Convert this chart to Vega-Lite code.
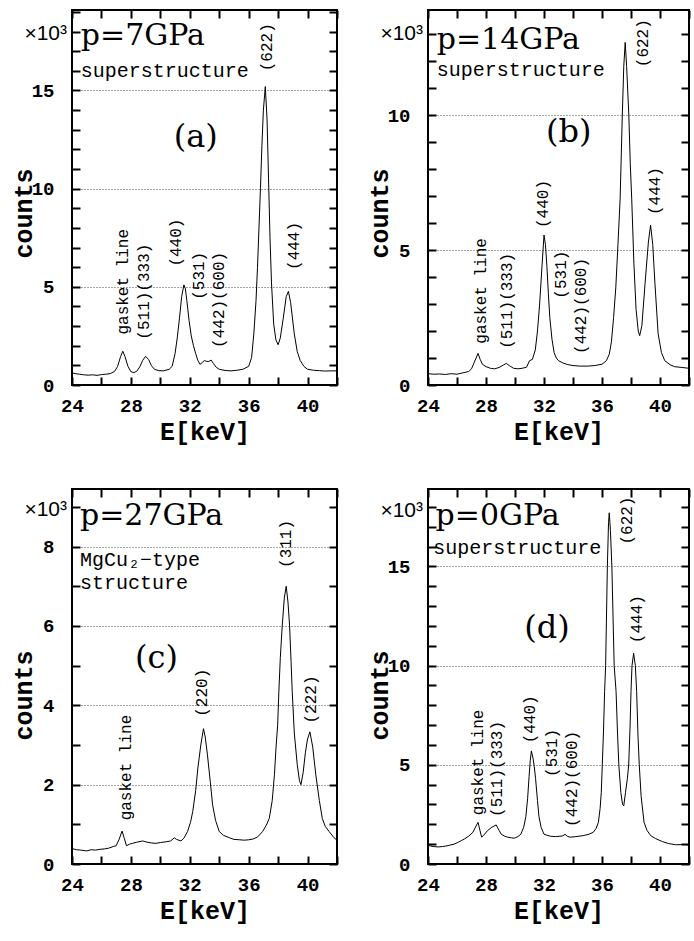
{
"$schema": "https://vega.github.io/schema/vega-lite/v6.json",
"padding": {"left": 10, "top": 1, "right": 0, "bottom": 0},
"background": "white",
"datasets": {
"spec": [
{"p":"a","E":24.0,"c":0.62},{"p":"a","E":24.2,"c":0.58},{"p":"a","E":24.5,"c":0.55},{"p":"a","E":24.8,"c":0.52},{"p":"a","E":25.1,"c":0.5},{"p":"a","E":25.4,"c":0.52},{"p":"a","E":25.7,"c":0.49},{"p":"a","E":26.0,"c":0.53},{"p":"a","E":26.3,"c":0.55},{"p":"a","E":26.6,"c":0.58},{"p":"a","E":26.9,"c":0.7},{"p":"a","E":27.1,"c":0.95},{"p":"a","E":27.3,"c":1.45},{"p":"a","E":27.45,"c":1.72},{"p":"a","E":27.6,"c":1.45},{"p":"a","E":27.8,"c":0.95},{"p":"a","E":28.0,"c":0.68},{"p":"a","E":28.2,"c":0.63},{"p":"a","E":28.4,"c":0.7},{"p":"a","E":28.6,"c":0.92},{"p":"a","E":28.8,"c":1.25},{"p":"a","E":29.0,"c":1.46},{"p":"a","E":29.2,"c":1.3},{"p":"a","E":29.4,"c":0.98},{"p":"a","E":29.6,"c":0.8},{"p":"a","E":29.9,"c":0.73},{"p":"a","E":30.2,"c":0.72},{"p":"a","E":30.6,"c":0.8},{"p":"a","E":30.8,"c":0.95},{"p":"a","E":31.0,"c":1.6},{"p":"a","E":31.15,"c":2.4},{"p":"a","E":31.3,"c":3.4},{"p":"a","E":31.45,"c":4.5},{"p":"a","E":31.6,"c":5.1},{"p":"a","E":31.7,"c":4.9},{"p":"a","E":31.8,"c":4.3},{"p":"a","E":31.95,"c":3.3},{"p":"a","E":32.1,"c":2.5},{"p":"a","E":32.25,"c":2.0},{"p":"a","E":32.4,"c":1.6},{"p":"a","E":32.55,"c":1.25},{"p":"a","E":32.7,"c":1.05},{"p":"a","E":32.85,"c":1.15},{"p":"a","E":33.0,"c":1.25},{"p":"a","E":33.15,"c":1.2},{"p":"a","E":33.3,"c":1.2},{"p":"a","E":33.45,"c":1.27},{"p":"a","E":33.6,"c":1.1},{"p":"a","E":33.8,"c":0.9},{"p":"a","E":34.0,"c":0.8},{"p":"a","E":34.4,"c":0.74},{"p":"a","E":34.8,"c":0.72},{"p":"a","E":35.2,"c":0.75},{"p":"a","E":35.6,"c":0.8},{"p":"a","E":36.0,"c":0.95},{"p":"a","E":36.2,"c":1.4},{"p":"a","E":36.35,"c":2.6},{"p":"a","E":36.5,"c":4.3},{"p":"a","E":36.6,"c":6.0},{"p":"a","E":36.7,"c":8.0},{"p":"a","E":36.8,"c":10.0},{"p":"a","E":36.9,"c":12.2},{"p":"a","E":37.0,"c":14.0},{"p":"a","E":37.13,"c":15.2},{"p":"a","E":37.25,"c":13.5},{"p":"a","E":37.35,"c":10.5},{"p":"a","E":37.45,"c":7.5},{"p":"a","E":37.55,"c":5.2},{"p":"a","E":37.7,"c":3.1},{"p":"a","E":37.85,"c":2.3},{"p":"a","E":38.0,"c":2.05},{"p":"a","E":38.15,"c":2.4},{"p":"a","E":38.35,"c":3.4},{"p":"a","E":38.55,"c":4.5},{"p":"a","E":38.7,"c":4.77},{"p":"a","E":38.85,"c":4.2},{"p":"a","E":39.1,"c":2.6},{"p":"a","E":39.3,"c":1.7},{"p":"a","E":39.5,"c":1.25},{"p":"a","E":39.75,"c":0.95},{"p":"a","E":40.0,"c":0.8},{"p":"a","E":40.4,"c":0.75},{"p":"a","E":40.8,"c":0.73},{"p":"a","E":41.2,"c":0.71},{"p":"a","E":41.6,"c":0.72},{"p":"a","E":42.0,"c":0.72},

{"p":"b","E":24.0,"c":0.42},{"p":"b","E":24.4,"c":0.4},{"p":"b","E":24.8,"c":0.41},{"p":"b","E":25.2,"c":0.39},{"p":"b","E":25.6,"c":0.42},{"p":"b","E":26.0,"c":0.4},{"p":"b","E":26.4,"c":0.45},{"p":"b","E":26.8,"c":0.5},{"p":"b","E":27.0,"c":0.6},{"p":"b","E":27.2,"c":0.85},{"p":"b","E":27.45,"c":1.17},{"p":"b","E":27.6,"c":0.95},{"p":"b","E":27.75,"c":0.77},{"p":"b","E":28.0,"c":0.68},{"p":"b","E":28.3,"c":0.62},{"p":"b","E":28.6,"c":0.6},{"p":"b","E":28.9,"c":0.65},{"p":"b","E":29.2,"c":0.74},{"p":"b","E":29.4,"c":0.8},{"p":"b","E":29.6,"c":0.72},{"p":"b","E":29.9,"c":0.62},{"p":"b","E":30.2,"c":0.6},{"p":"b","E":30.5,"c":0.62},{"p":"b","E":30.8,"c":0.66},{"p":"b","E":31.0,"c":0.9},{"p":"b","E":31.2,"c":0.95},{"p":"b","E":31.4,"c":1.3},{"p":"b","E":31.55,"c":2.0},{"p":"b","E":31.7,"c":3.0},{"p":"b","E":31.85,"c":4.3},{"p":"b","E":32.0,"c":5.56},{"p":"b","E":32.1,"c":5.2},{"p":"b","E":32.2,"c":4.4},{"p":"b","E":32.3,"c":3.4},{"p":"b","E":32.4,"c":2.5},{"p":"b","E":32.55,"c":1.7},{"p":"b","E":32.7,"c":1.2},{"p":"b","E":32.85,"c":1.0},{"p":"b","E":33.0,"c":0.9},{"p":"b","E":33.3,"c":0.82},{"p":"b","E":33.6,"c":0.76},{"p":"b","E":34.0,"c":0.72},{"p":"b","E":34.5,"c":0.7},{"p":"b","E":35.0,"c":0.7},{"p":"b","E":35.5,"c":0.72},{"p":"b","E":36.0,"c":0.77},{"p":"b","E":36.3,"c":0.9},{"p":"b","E":36.5,"c":1.14},{"p":"b","E":36.65,"c":1.6},{"p":"b","E":36.8,"c":2.5},{"p":"b","E":36.95,"c":3.6},{"p":"b","E":37.1,"c":5.2},{"p":"b","E":37.25,"c":6.9},{"p":"b","E":37.4,"c":10.0},{"p":"b","E":37.5,"c":11.8},{"p":"b","E":37.6,"c":12.7},{"p":"b","E":37.7,"c":11.8},{"p":"b","E":37.85,"c":10.0},{"p":"b","E":37.95,"c":8.2},{"p":"b","E":38.05,"c":6.9},{"p":"b","E":38.2,"c":4.5},{"p":"b","E":38.35,"c":2.8},{"p":"b","E":38.5,"c":2.0},{"p":"b","E":38.6,"c":1.83},{"p":"b","E":38.75,"c":2.2},{"p":"b","E":38.97,"c":3.77},{"p":"b","E":39.2,"c":5.3},{"p":"b","E":39.35,"c":5.93},{"p":"b","E":39.5,"c":5.2},{"p":"b","E":39.65,"c":3.77},{"p":"b","E":39.87,"c":1.9},{"p":"b","E":40.1,"c":1.2},{"p":"b","E":40.33,"c":0.9},{"p":"b","E":40.7,"c":0.75},{"p":"b","E":41.0,"c":0.68},{"p":"b","E":41.5,"c":0.65},{"p":"b","E":42.0,"c":0.62},

{"p":"c","E":24.0,"c":0.39},{"p":"c","E":24.3,"c":0.36},{"p":"c","E":24.6,"c":0.35},{"p":"c","E":25.0,"c":0.33},{"p":"c","E":25.3,"c":0.36},{"p":"c","E":25.6,"c":0.35},{"p":"c","E":25.9,"c":0.37},{"p":"c","E":26.2,"c":0.38},{"p":"c","E":26.5,"c":0.4},{"p":"c","E":26.8,"c":0.44},{"p":"c","E":27.0,"c":0.46},{"p":"c","E":27.2,"c":0.62},{"p":"c","E":27.4,"c":0.83},{"p":"c","E":27.55,"c":0.65},{"p":"c","E":27.7,"c":0.46},{"p":"c","E":27.9,"c":0.5},{"p":"c","E":28.1,"c":0.52},{"p":"c","E":28.4,"c":0.55},{"p":"c","E":28.8,"c":0.58},{"p":"c","E":29.1,"c":0.55},{"p":"c","E":29.4,"c":0.53},{"p":"c","E":29.7,"c":0.52},{"p":"c","E":30.0,"c":0.54},{"p":"c","E":30.4,"c":0.56},{"p":"c","E":30.7,"c":0.58},{"p":"c","E":30.95,"c":0.66},{"p":"c","E":31.1,"c":0.62},{"p":"c","E":31.4,"c":0.58},{"p":"c","E":31.6,"c":0.65},{"p":"c","E":31.85,"c":0.82},{"p":"c","E":32.05,"c":1.05},{"p":"c","E":32.2,"c":1.32},{"p":"c","E":32.4,"c":1.85},{"p":"c","E":32.55,"c":2.42},{"p":"c","E":32.75,"c":3.0},{"p":"c","E":32.93,"c":3.41},{"p":"c","E":33.05,"c":3.2},{"p":"c","E":33.2,"c":2.75},{"p":"c","E":33.4,"c":2.05},{"p":"c","E":33.55,"c":1.49},{"p":"c","E":33.75,"c":1.1},{"p":"c","E":34.0,"c":0.82},{"p":"c","E":34.3,"c":0.72},{"p":"c","E":34.7,"c":0.66},{"p":"c","E":35.0,"c":0.62},{"p":"c","E":35.4,"c":0.61},{"p":"c","E":35.7,"c":0.6},{"p":"c","E":36.0,"c":0.61},{"p":"c","E":36.3,"c":0.63},{"p":"c","E":36.6,"c":0.68},{"p":"c","E":36.95,"c":0.82},{"p":"c","E":37.2,"c":0.98},{"p":"c","E":37.4,"c":1.15},{"p":"c","E":37.6,"c":1.6},{"p":"c","E":37.75,"c":2.25},{"p":"c","E":37.87,"c":3.0},{"p":"c","E":37.97,"c":3.5},{"p":"c","E":38.05,"c":4.34},{"p":"c","E":38.15,"c":5.2},{"p":"c","E":38.28,"c":6.0},{"p":"c","E":38.42,"c":6.7},{"p":"c","E":38.55,"c":7.0},{"p":"c","E":38.67,"c":6.6},{"p":"c","E":38.78,"c":6.0},{"p":"c","E":38.88,"c":5.1},{"p":"c","E":38.96,"c":4.34},{"p":"c","E":39.1,"c":3.3},{"p":"c","E":39.3,"c":2.5},{"p":"c","E":39.45,"c":2.1},{"p":"c","E":39.55,"c":2.0},{"p":"c","E":39.7,"c":2.3},{"p":"c","E":39.85,"c":2.8},{"p":"c","E":40.0,"c":3.15},{"p":"c","E":40.16,"c":3.33},{"p":"c","E":40.35,"c":2.95},{"p":"c","E":40.56,"c":2.25},{"p":"c","E":40.8,"c":1.6},{"p":"c","E":41.0,"c":1.15},{"p":"c","E":41.2,"c":0.95},{"p":"c","E":41.46,"c":0.82},{"p":"c","E":41.8,"c":0.66},{"p":"c","E":42.0,"c":0.6},

{"p":"d","E":24.0,"c":0.94},{"p":"d","E":24.35,"c":0.88},{"p":"d","E":24.7,"c":0.86},{"p":"d","E":25.0,"c":0.88},{"p":"d","E":25.2,"c":0.9},{"p":"d","E":25.5,"c":0.95},{"p":"d","E":25.8,"c":1.0},{"p":"d","E":26.1,"c":1.1},{"p":"d","E":26.3,"c":1.18},{"p":"d","E":26.5,"c":1.26},{"p":"d","E":26.8,"c":1.4},{"p":"d","E":27.1,"c":1.6},{"p":"d","E":27.3,"c":1.9},{"p":"d","E":27.45,"c":2.1},{"p":"d","E":27.58,"c":1.7},{"p":"d","E":27.7,"c":1.35},{"p":"d","E":27.9,"c":1.5},{"p":"d","E":28.1,"c":1.68},{"p":"d","E":28.4,"c":1.85},{"p":"d","E":28.7,"c":1.97},{"p":"d","E":28.9,"c":1.7},{"p":"d","E":29.05,"c":1.5},{"p":"d","E":29.3,"c":1.4},{"p":"d","E":29.5,"c":1.35},{"p":"d","E":29.75,"c":1.32},{"p":"d","E":29.95,"c":1.3},{"p":"d","E":30.2,"c":1.38},{"p":"d","E":30.4,"c":1.5},{"p":"d","E":30.6,"c":1.85},{"p":"d","E":30.75,"c":2.4},{"p":"d","E":30.87,"c":3.3},{"p":"d","E":30.97,"c":4.4},{"p":"d","E":31.05,"c":5.2},{"p":"d","E":31.13,"c":5.7},{"p":"d","E":31.25,"c":5.3},{"p":"d","E":31.33,"c":4.9},{"p":"d","E":31.42,"c":4.3},{"p":"d","E":31.55,"c":3.2},{"p":"d","E":31.65,"c":2.4},{"p":"d","E":31.8,"c":1.85},{"p":"d","E":32.0,"c":1.5},{"p":"d","E":32.2,"c":1.45},{"p":"d","E":32.45,"c":1.4},{"p":"d","E":32.8,"c":1.38},{"p":"d","E":33.1,"c":1.4},{"p":"d","E":33.3,"c":1.42},{"p":"d","E":33.45,"c":1.5},{"p":"d","E":33.6,"c":1.4},{"p":"d","E":33.8,"c":1.35},{"p":"d","E":34.2,"c":1.38},{"p":"d","E":34.7,"c":1.43},{"p":"d","E":35.1,"c":1.5},{"p":"d","E":35.4,"c":1.6},{"p":"d","E":35.6,"c":1.8},{"p":"d","E":35.75,"c":2.1},{"p":"d","E":35.87,"c":2.8},{"p":"d","E":35.95,"c":3.6},{"p":"d","E":36.02,"c":5.0},{"p":"d","E":36.1,"c":6.6},{"p":"d","E":36.18,"c":8.7},{"p":"d","E":36.25,"c":10.0},{"p":"d","E":36.37,"c":15.0},{"p":"d","E":36.45,"c":17.2},{"p":"d","E":36.5,"c":17.7},{"p":"d","E":36.58,"c":16.8},{"p":"d","E":36.68,"c":15.0},{"p":"d","E":36.84,"c":10.0},{"p":"d","E":36.97,"c":8.7},{"p":"d","E":37.07,"c":6.6},{"p":"d","E":37.16,"c":5.0},{"p":"d","E":37.3,"c":3.6},{"p":"d","E":37.42,"c":3.0},{"p":"d","E":37.5,"c":2.93},{"p":"d","E":37.62,"c":3.6},{"p":"d","E":37.75,"c":4.3},{"p":"d","E":37.84,"c":5.0},{"p":"d","E":37.93,"c":6.8},{"p":"d","E":38.0,"c":8.7},{"p":"d","E":38.07,"c":10.0},{"p":"d","E":38.18,"c":10.62},{"p":"d","E":38.3,"c":10.0},{"p":"d","E":38.39,"c":8.7},{"p":"d","E":38.48,"c":6.5},{"p":"d","E":38.57,"c":5.0},{"p":"d","E":38.7,"c":3.4},{"p":"d","E":38.9,"c":2.1},{"p":"d","E":39.1,"c":1.7},{"p":"d","E":39.36,"c":1.43},{"p":"d","E":39.7,"c":1.28},{"p":"d","E":40.16,"c":1.13},{"p":"d","E":40.6,"c":1.03},{"p":"d","E":41.07,"c":0.97},{"p":"d","E":41.5,"c":0.98},{"p":"d","E":42.0,"c":0.97}
],
"lab": [
{"p":"a","k":"pk","E":27.46,"c":2.57,"t":"gasket line"},{"p":"a","k":"pk","E":28.89,"c":2.31,"t":"(511)(333)"},{"p":"a","k":"pk","E":31.04,"c":6.03,"t":"(440)"},{"p":"a","k":"pk","E":32.63,"c":4.34,"t":"(531)"},{"p":"a","k":"pk","E":33.99,"c":1.89,"t":"(442)(600)"},{"p":"a","k":"pk","E":37.27,"c":15.98,"t":"(622)"},{"p":"a","k":"pk","E":39.08,"c":5.86,"t":"(444)"},
{"p":"a","k":"big","E":24.6,"c":17.3,"t":"p=7GPa"},{"p":"a","k":"sub","E":24.6,"c":15.68,"t":"superstructure"},{"p":"a","k":"let","E":32.4,"c":12.13,"t":"(a)"},{"p":"a","k":"mul","E":24,"c":17.55,"t":"×10³"},
{"p":"b","k":"pk","E":27.63,"c":1.53,"t":"gasket line"},{"p":"b","k":"pk","E":29.44,"c":1.34,"t":"(511)(333)"},{"p":"b","k":"pk","E":31.9,"c":5.82,"t":"(440)"},{"p":"b","k":"pk","E":33.2,"c":3.2,"t":"(531)"},{"p":"b","k":"pk","E":34.54,"c":1.15,"t":"(442)(600)"},{"p":"b","k":"pk","E":38.85,"c":11.78,"t":"(622)"},{"p":"b","k":"pk","E":39.65,"c":6.3,"t":"(444)"},
{"p":"b","k":"big","E":24.6,"c":12.46,"t":"p=14GPa"},{"p":"b","k":"sub","E":24.6,"c":11.45,"t":"superstructure"},{"p":"b","k":"let","E":33.7,"c":9.0,"t":"(b)"},{"p":"b","k":"mul","E":24,"c":12.77,"t":"×10³"},
{"p":"c","k":"pk","E":27.7,"c":1.1,"t":"gasket line"},{"p":"c","k":"pk","E":32.8,"c":3.71,"t":"(220)"},{"p":"c","k":"pk","E":38.55,"c":7.46,"t":"(311)"},{"p":"c","k":"pk","E":40.25,"c":3.54,"t":"(222)"},
{"p":"c","k":"big","E":24.54,"c":8.55,"t":"p=27GPa"},{"p":"c","k":"sub","E":24.54,"c":7.5,"t":"MgCu₂−type"},{"p":"c","k":"sub","E":24.54,"c":6.93,"t":"structure"},{"p":"c","k":"let","E":29.74,"c":4.93,"t":"(c)"},{"p":"c","k":"mul","E":24,"c":8.76,"t":"×10³"},
{"p":"d","k":"pk","E":27.43,"c":2.46,"t":"gasket line"},{"p":"d","k":"pk","E":28.79,"c":2.37,"t":"(511)(333)"},{"p":"d","k":"pk","E":31.0,"c":6.08,"t":"(440)"},{"p":"d","k":"pk","E":32.53,"c":4.39,"t":"(531)"},{"p":"d","k":"pk","E":33.96,"c":1.87,"t":"(442)(600)"},{"p":"d","k":"pk","E":37.75,"c":16.1,"t":"(622)"},{"p":"d","k":"pk","E":38.43,"c":11.13,"t":"(444)"},
{"p":"d","k":"big","E":24.52,"c":17.1,"t":"p=0GPa"},{"p":"d","k":"sub","E":24.36,"c":15.6,"t":"superstructure"},{"p":"d","k":"let","E":32.2,"c":11.38,"t":"(d)"},{"p":"d","k":"mul","E":24,"c":17.5,"t":"×10³"}
]
},
"columns": 2,
"spacing": {"row": 42, "column": 26},
"concat": [
{
"width": 265, "height": 375,
"layer": [
{"data": {"name": "spec"}, "transform": [{"filter": "datum.p === 'a'"}],
 "mark": {"type": "line", "color": "black", "strokeWidth": 1},
 "encoding": {
  "x": {"field": "E", "type": "quantitative", "scale": {"domain": [24, 42], "nice": false, "zero": false},
   "axis": {"orient": "bottom", "title": "E[keV]", "values": [24,26,28,30,32,34,36,38,40,42], "labelExpr": "datum.value % 4 === 0 && datum.value < 42 ? datum.label : ''", "ticks": true, "tickSize": -8, "tickWidth": 2, "tickColor": "black", "labelPadding": 19, "titleY": 34}},
  "y": {"field": "c", "type": "quantitative", "scale": {"domain": [0, 19.1], "nice": false, "zero": false},
   "axis": {"orient": "left", "title": "counts", "values": [0,1,2,3,4,5,6,7,8,9,10,11,12,13,14,15,16,17,18,19], "labelExpr": "datum.value % 5 === 0 ? datum.label : ''", "ticks": true, "tickSize": -8, "tickWidth": 2, "tickColor": "black", "labelPadding": 26, "grid": true,
    "gridOpacity": {"condition": {"test": "datum.value % 5 === 0 && datum.value > 0", "value": 1}, "value": 0},
    "titleX": -36, "titleY": 203, "minExtent": 40, "maxExtent": 40}}
 }},
{"data": {"name": "lab"}, "transform": [{"filter": "datum.p === 'a' && datum.k === 'pk'"}],
 "mark": {"type": "text", "angle": 270, "align": "left", "baseline": "middle", "font": "Liberation Mono", "fontSize": 16},
 "encoding": {
  "x": {"field": "E", "type": "quantitative", "scale": {"domain": [24, 42], "nice": false, "zero": false}, "axis": {"orient": "top", "title": null, "labels": false, "domain": false, "ticks": true, "tickSize": -8, "tickWidth": 2, "tickColor": "black", "values": [24,26,28,30,32,34,36,38,40,42]}},
  "y": {"field": "c", "type": "quantitative", "scale": {"domain": [0, 19.1], "nice": false, "zero": false}, "axis": {"orient": "right", "title": null, "labels": false, "domain": false, "ticks": true, "tickSize": -8, "tickWidth": 2, "tickColor": "black", "values": [0,1,2,3,4,5,6,7,8,9,10,11,12,13,14,15,16,17,18,19]}},
  "text": {"field": "t"}
 }},
{"data": {"name": "lab"}, "transform": [{"filter": "datum.p === 'a' && datum.k === 'big'"}],
 "mark": {"type": "text", "align": "left", "baseline": "alphabetic", "font": "DejaVu Serif", "fontSize": 30},
 "encoding": {"x": {"field": "E", "type": "quantitative", "axis": null}, "y": {"field": "c", "type": "quantitative", "axis": null}, "text": {"field": "t"}}},
{"data": {"name": "lab"}, "transform": [{"filter": "datum.p === 'a' && datum.k === 'sub'"}],
 "mark": {"type": "text", "align": "left", "baseline": "alphabetic", "font": "Liberation Mono", "fontSize": 20},
 "encoding": {"x": {"field": "E", "type": "quantitative", "axis": null}, "y": {"field": "c", "type": "quantitative", "axis": null}, "text": {"field": "t"}}},
{"data": {"name": "lab"}, "transform": [{"filter": "datum.p === 'a' && datum.k === 'let'"}],
 "mark": {"type": "text", "align": "center", "baseline": "alphabetic", "font": "DejaVu Serif", "fontSize": 32},
 "encoding": {"x": {"field": "E", "type": "quantitative", "axis": null}, "y": {"field": "c", "type": "quantitative", "axis": null}, "text": {"field": "t"}}},
{"data": {"name": "lab"}, "transform": [{"filter": "datum.p === 'a' && datum.k === 'mul'"}],
 "mark": {"type": "text", "align": "right", "baseline": "alphabetic", "font": "Liberation Sans", "fontSize": 21, "dx": -5},
 "encoding": {"x": {"field": "E", "type": "quantitative", "axis": null}, "y": {"field": "c", "type": "quantitative", "axis": null}, "text": {"field": "t"}}}
],
"resolve": {"axis": {"x": "independent", "y": "independent"}}
},
{
"width": 261, "height": 375,
"layer": [
{"data": {"name": "spec"}, "transform": [{"filter": "datum.p === 'b'"}],
 "mark": {"type": "line", "color": "black", "strokeWidth": 1},
 "encoding": {
  "x": {"field": "E", "type": "quantitative", "scale": {"domain": [24, 42], "nice": false, "zero": false},
   "axis": {"orient": "bottom", "title": "E[keV]", "values": [24,26,28,30,32,34,36,38,40,42], "labelExpr": "datum.value % 4 === 0 && datum.value < 42 ? datum.label : ''", "ticks": true, "tickSize": -8, "tickWidth": 2, "tickColor": "black", "labelPadding": 19, "titleY": 34}},
  "y": {"field": "c", "type": "quantitative", "scale": {"domain": [0, 13.9], "nice": false, "zero": false},
   "axis": {"orient": "left", "title": "counts", "values": [0,1,2,3,4,5,6,7,8,9,10,11,12,13], "labelExpr": "datum.value % 5 === 0 ? datum.label : ''", "ticks": true, "tickSize": -8, "tickWidth": 2, "tickColor": "black", "labelPadding": 26, "grid": true,
    "gridOpacity": {"condition": {"test": "datum.value % 5 === 0 && datum.value > 0", "value": 1}, "value": 0},
    "titleX": -36, "titleY": 203, "minExtent": 40, "maxExtent": 40}}
 }},
{"data": {"name": "lab"}, "transform": [{"filter": "datum.p === 'b' && datum.k === 'pk'"}],
 "mark": {"type": "text", "angle": 270, "align": "left", "baseline": "middle", "font": "Liberation Mono", "fontSize": 16},
 "encoding": {
  "x": {"field": "E", "type": "quantitative", "scale": {"domain": [24, 42], "nice": false, "zero": false}, "axis": {"orient": "top", "title": null, "labels": false, "domain": false, "ticks": true, "tickSize": -8, "tickWidth": 2, "tickColor": "black", "values": [24,26,28,30,32,34,36,38,40,42]}},
  "y": {"field": "c", "type": "quantitative", "scale": {"domain": [0, 13.9], "nice": false, "zero": false}, "axis": {"orient": "right", "title": null, "labels": false, "domain": false, "ticks": true, "tickSize": -8, "tickWidth": 2, "tickColor": "black", "values": [0,1,2,3,4,5,6,7,8,9,10,11,12,13]}},
  "text": {"field": "t"}
 }},
{"data": {"name": "lab"}, "transform": [{"filter": "datum.p === 'b' && datum.k === 'big'"}],
 "mark": {"type": "text", "align": "left", "baseline": "alphabetic", "font": "DejaVu Serif", "fontSize": 30},
 "encoding": {"x": {"field": "E", "type": "quantitative", "axis": null}, "y": {"field": "c", "type": "quantitative", "axis": null}, "text": {"field": "t"}}},
{"data": {"name": "lab"}, "transform": [{"filter": "datum.p === 'b' && datum.k === 'sub'"}],
 "mark": {"type": "text", "align": "left", "baseline": "alphabetic", "font": "Liberation Mono", "fontSize": 20},
 "encoding": {"x": {"field": "E", "type": "quantitative", "axis": null}, "y": {"field": "c", "type": "quantitative", "axis": null}, "text": {"field": "t"}}},
{"data": {"name": "lab"}, "transform": [{"filter": "datum.p === 'b' && datum.k === 'let'"}],
 "mark": {"type": "text", "align": "center", "baseline": "alphabetic", "font": "DejaVu Serif", "fontSize": 32},
 "encoding": {"x": {"field": "E", "type": "quantitative", "axis": null}, "y": {"field": "c", "type": "quantitative", "axis": null}, "text": {"field": "t"}}},
{"data": {"name": "lab"}, "transform": [{"filter": "datum.p === 'b' && datum.k === 'mul'"}],
 "mark": {"type": "text", "align": "right", "baseline": "alphabetic", "font": "Liberation Sans", "fontSize": 21, "dx": -5},
 "encoding": {"x": {"field": "E", "type": "quantitative", "axis": null}, "y": {"field": "c", "type": "quantitative", "axis": null}, "text": {"field": "t"}}}
],
"resolve": {"axis": {"x": "independent", "y": "independent"}}
},
{
"width": 265, "height": 375,
"layer": [
{"data": {"name": "spec"}, "transform": [{"filter": "datum.p === 'c'"}],
 "mark": {"type": "line", "color": "black", "strokeWidth": 1},
 "encoding": {
  "x": {"field": "E", "type": "quantitative", "scale": {"domain": [24, 42], "nice": false, "zero": false},
   "axis": {"orient": "bottom", "title": "E[keV]", "values": [24,26,28,30,32,34,36,38,40,42], "labelExpr": "datum.value % 4 === 0 && datum.value < 42 ? datum.label : ''", "ticks": true, "tickSize": -8, "tickWidth": 2, "tickColor": "black", "labelPadding": 19, "titleY": 34}},
  "y": {"field": "c", "type": "quantitative", "scale": {"domain": [0, 9.45], "nice": false, "zero": false},
   "axis": {"orient": "left", "title": "counts", "values": [0,1,2,3,4,5,6,7,8,9], "labelExpr": "datum.value % 2 === 0 ? datum.label : ''", "ticks": true, "tickSize": -8, "tickWidth": 2, "tickColor": "black", "labelPadding": 26, "grid": true,
    "gridOpacity": {"condition": {"test": "datum.value % 2 === 0 && datum.value > 0", "value": 1}, "value": 0},
    "titleX": -36, "titleY": 206, "minExtent": 40, "maxExtent": 40}}
 }},
{"data": {"name": "lab"}, "transform": [{"filter": "datum.p === 'c' && datum.k === 'pk'"}],
 "mark": {"type": "text", "angle": 270, "align": "left", "baseline": "middle", "font": "Liberation Mono", "fontSize": 16},
 "encoding": {
  "x": {"field": "E", "type": "quantitative", "scale": {"domain": [24, 42], "nice": false, "zero": false}, "axis": {"orient": "top", "title": null, "labels": false, "domain": false, "ticks": true, "tickSize": -8, "tickWidth": 2, "tickColor": "black", "values": [24,26,28,30,32,34,36,38,40,42]}},
  "y": {"field": "c", "type": "quantitative", "scale": {"domain": [0, 9.45], "nice": false, "zero": false}, "axis": {"orient": "right", "title": null, "labels": false, "domain": false, "ticks": true, "tickSize": -8, "tickWidth": 2, "tickColor": "black", "values": [0,1,2,3,4,5,6,7,8,9]}},
  "text": {"field": "t"}
 }},
{"data": {"name": "lab"}, "transform": [{"filter": "datum.p === 'c' && datum.k === 'big'"}],
 "mark": {"type": "text", "align": "left", "baseline": "alphabetic", "font": "DejaVu Serif", "fontSize": 30},
 "encoding": {"x": {"field": "E", "type": "quantitative", "axis": null}, "y": {"field": "c", "type": "quantitative", "axis": null}, "text": {"field": "t"}}},
{"data": {"name": "lab"}, "transform": [{"filter": "datum.p === 'c' && datum.k === 'sub'"}],
 "mark": {"type": "text", "align": "left", "baseline": "alphabetic", "font": "Liberation Mono", "fontSize": 20},
 "encoding": {"x": {"field": "E", "type": "quantitative", "axis": null}, "y": {"field": "c", "type": "quantitative", "axis": null}, "text": {"field": "t"}}},
{"data": {"name": "lab"}, "transform": [{"filter": "datum.p === 'c' && datum.k === 'let'"}],
 "mark": {"type": "text", "align": "center", "baseline": "alphabetic", "font": "DejaVu Serif", "fontSize": 32},
 "encoding": {"x": {"field": "E", "type": "quantitative", "axis": null}, "y": {"field": "c", "type": "quantitative", "axis": null}, "text": {"field": "t"}}},
{"data": {"name": "lab"}, "transform": [{"filter": "datum.p === 'c' && datum.k === 'mul'"}],
 "mark": {"type": "text", "align": "right", "baseline": "alphabetic", "font": "Liberation Sans", "fontSize": 21, "dx": -5},
 "encoding": {"x": {"field": "E", "type": "quantitative", "axis": null}, "y": {"field": "c", "type": "quantitative", "axis": null}, "text": {"field": "t"}}}
],
"resolve": {"axis": {"x": "independent", "y": "independent"}}
},
{
"width": 261, "height": 375,
"layer": [
{"data": {"name": "spec"}, "transform": [{"filter": "datum.p === 'd'"}],
 "mark": {"type": "line", "color": "black", "strokeWidth": 1},
 "encoding": {
  "x": {"field": "E", "type": "quantitative", "scale": {"domain": [24, 42], "nice": false, "zero": false},
   "axis": {"orient": "bottom", "title": "E[keV]", "values": [24,26,28,30,32,34,36,38,40,42], "labelExpr": "datum.value % 4 === 0 && datum.value < 42 ? datum.label : ''", "ticks": true, "tickSize": -8, "tickWidth": 2, "tickColor": "black", "labelPadding": 19, "titleY": 34}},
  "y": {"field": "c", "type": "quantitative", "scale": {"domain": [0, 18.9], "nice": false, "zero": false},
   "axis": {"orient": "left", "title": "counts", "values": [0,1,2,3,4,5,6,7,8,9,10,11,12,13,14,15,16,17,18], "labelExpr": "datum.value % 5 === 0 ? datum.label : ''", "ticks": true, "tickSize": -8, "tickWidth": 2, "tickColor": "black", "labelPadding": 26, "grid": true,
    "gridOpacity": {"condition": {"test": "datum.value % 5 === 0 && datum.value > 0", "value": 1}, "value": 0},
    "titleX": -36, "titleY": 206, "minExtent": 40, "maxExtent": 40}}
 }},
{"data": {"name": "lab"}, "transform": [{"filter": "datum.p === 'd' && datum.k === 'pk'"}],
 "mark": {"type": "text", "angle": 270, "align": "left", "baseline": "middle", "font": "Liberation Mono", "fontSize": 16},
 "encoding": {
  "x": {"field": "E", "type": "quantitative", "scale": {"domain": [24, 42], "nice": false, "zero": false}, "axis": {"orient": "top", "title": null, "labels": false, "domain": false, "ticks": true, "tickSize": -8, "tickWidth": 2, "tickColor": "black", "values": [24,26,28,30,32,34,36,38,40,42]}},
  "y": {"field": "c", "type": "quantitative", "scale": {"domain": [0, 18.9], "nice": false, "zero": false}, "axis": {"orient": "right", "title": null, "labels": false, "domain": false, "ticks": true, "tickSize": -8, "tickWidth": 2, "tickColor": "black", "values": [0,1,2,3,4,5,6,7,8,9,10,11,12,13,14,15,16,17,18]}},
  "text": {"field": "t"}
 }},
{"data": {"name": "lab"}, "transform": [{"filter": "datum.p === 'd' && datum.k === 'big'"}],
 "mark": {"type": "text", "align": "left", "baseline": "alphabetic", "font": "DejaVu Serif", "fontSize": 30},
 "encoding": {"x": {"field": "E", "type": "quantitative", "axis": null}, "y": {"field": "c", "type": "quantitative", "axis": null}, "text": {"field": "t"}}},
{"data": {"name": "lab"}, "transform": [{"filter": "datum.p === 'd' && datum.k === 'sub'"}],
 "mark": {"type": "text", "align": "left", "baseline": "alphabetic", "font": "Liberation Mono", "fontSize": 20},
 "encoding": {"x": {"field": "E", "type": "quantitative", "axis": null}, "y": {"field": "c", "type": "quantitative", "axis": null}, "text": {"field": "t"}}},
{"data": {"name": "lab"}, "transform": [{"filter": "datum.p === 'd' && datum.k === 'let'"}],
 "mark": {"type": "text", "align": "center", "baseline": "alphabetic", "font": "DejaVu Serif", "fontSize": 32},
 "encoding": {"x": {"field": "E", "type": "quantitative", "axis": null}, "y": {"field": "c", "type": "quantitative", "axis": null}, "text": {"field": "t"}}},
{"data": {"name": "lab"}, "transform": [{"filter": "datum.p === 'd' && datum.k === 'mul'"}],
 "mark": {"type": "text", "align": "right", "baseline": "alphabetic", "font": "Liberation Sans", "fontSize": 21, "dx": -5},
 "encoding": {"x": {"field": "E", "type": "quantitative", "axis": null}, "y": {"field": "c", "type": "quantitative", "axis": null}, "text": {"field": "t"}}}
],
"resolve": {"axis": {"x": "independent", "y": "independent"}}
}
],
"config": {
 "view": {"stroke": "black", "strokeWidth": 2},
 "axis": {"labelFont": "Liberation Mono", "labelFontSize": 19, "labelFontWeight": "bold", "labelColor": "black", "titleFont": "Liberation Mono", "titleFontSize": 25, "titleFontWeight": "bold", "titleColor": "black", "domain": false, "grid": false, "gridColor": "#333333", "gridDash": [1, 2], "gridWidth": 0.9, "labelOverlap": false, "labelFlush": false, "labelBound": false},
 "text": {"color": "black"}
}
}
